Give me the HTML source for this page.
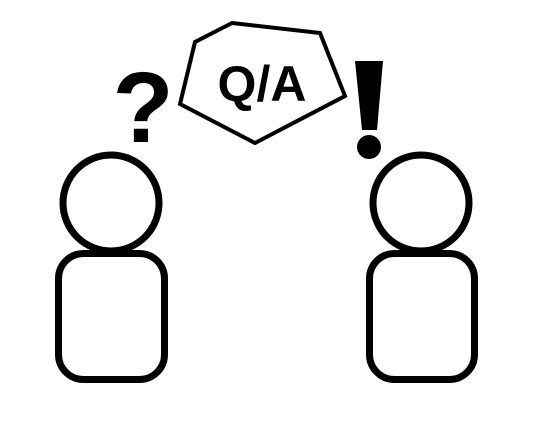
<!DOCTYPE html>
<html><head><meta charset="utf-8"><style>
html,body{margin:0;padding:0;background:#fff;width:546px;height:422px;overflow:hidden}
</style></head><body>
<svg width="546" height="422" viewBox="0 0 546 422">
<polygon points="232,23 320,33 345,96 255,143 180,104 195,42" fill="#fff" stroke="#000" stroke-width="4" stroke-linejoin="miter"/>
<text x="262" y="101" text-anchor="middle" font-family="Liberation Sans, sans-serif" font-weight="bold" font-size="50" fill="#000">Q/A</text>
<text x="143" y="142" text-anchor="middle" font-family="Liberation Sans, sans-serif" font-weight="bold" font-size="100" fill="#000">?</text>
<g>
<polygon points="355,61 383,61 377,130 362,130" fill="#000"/>
<circle cx="369" cy="147" r="12" fill="#000"/>
</g>
<g fill="none" stroke="#000" stroke-width="7">
<circle cx="111" cy="203" r="48"/>
<rect x="58.5" y="253.5" width="106" height="126" rx="25"/>
</g>
<g fill="none" stroke="#000" stroke-width="7">
<circle cx="421" cy="203" r="48"/>
<rect x="369.5" y="253.5" width="105" height="126" rx="25"/>
</g>
</svg>
</body></html>
